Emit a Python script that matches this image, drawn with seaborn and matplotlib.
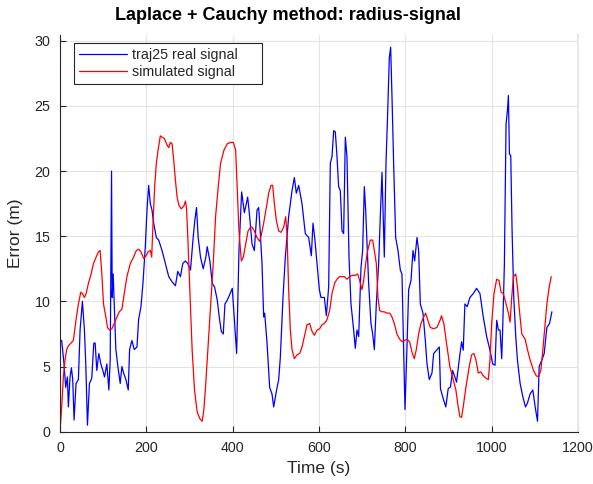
import matplotlib
matplotlib.use("Agg")
import matplotlib.pyplot as plt
import pandas as pd
import seaborn as sns

# values (time in s, error in m)
real_t = [0, 3.9, 9.3, 13.2, 17.1, 19.4, 23.3, 26.4, 29.5, 32.6,
          37.2, 42.6, 46.5, 51.9, 56.6, 59.7, 63.6, 68.2, 73.6, 78.3,
          81.4, 85.3, 89.9, 94.6, 99.2, 103.1, 108.5, 113.2, 116.3, 119.4,
          120.9, 123.2, 125.6, 129.4, 134.1, 139.5, 143.4, 147.3, 152.7, 158.1,
          161.2, 166.6, 172.1, 178.3, 182.1, 187.6, 192.2, 197.6, 201.5, 205.4,
          209.3, 213.1, 217, 223.2, 228.6, 236.4, 244.1, 251.9, 259.6, 267.4,
          272.8, 279, 284.4, 290.6, 296.1, 302.3, 308.5, 312.3, 316.2, 320.1,
          325.5, 331.7, 337.9, 341, 347.2, 352.6, 358.1, 364.3, 368.9, 373.6,
          378.2, 382.1, 387.5, 392.9, 399.1, 404.6, 409.2, 414.6, 420.8,
          427.1, 434.8, 439.4, 444.8, 450.2, 456.4, 460.3, 464.1, 468, 471.8,
          474.2, 479.6, 485.7, 491.1, 495, 501.2, 506.6, 510.4, 516.6, 522,
          529.7, 537.5, 542.9, 547.5, 552.9, 560.6, 568.3, 576.1, 582.2, 586.1,
          590, 595.4, 600.8, 604.6, 612.4, 617, 622.4, 626.2, 630.1, 634,
          637.8, 641.7, 645.5, 649.4, 653.3, 657.1, 661, 664.8, 669.5, 674.1,
          680.3, 684.1, 688, 691.9, 697.3, 701.1, 705, 708.1, 711.2, 715,
          720.4, 724.3, 728.2, 732.8, 738.2, 742, 745.9, 749.8, 751.3, 755.2,
          759, 762.9, 766, 769.1, 772.9, 777.6, 783, 788.4, 792.2, 796.1,
          799.2, 803.8, 807.7, 813.1, 817.7, 821.6, 827, 830.8, 834.7, 840.9,
          846.3, 850.2, 855.5, 861.7, 865.6, 873.3, 878.7,
          881.4, 887.6, 893.8, 899.3, 904.7, 909.3, 914.8, 918.6, 924.8, 930.3,
          934.1, 938, 943.4, 949.6, 957.4, 965.1, 972.9, 980.6, 988.4, 996.1,
          1002.3, 1007.8, 1011.6, 1015.5, 1019.4, 1023.3, 1025.6, 1029.5, 1033.3, 1036.4,
          1038.8, 1041.1, 1044.2, 1047.3, 1051.2, 1055.8, 1059.7, 1065.9, 1072.1, 1078.3,
          1082.9, 1089.1, 1095.3, 1100.8, 1106.2, 1110, 1116.3, 1121.7, 1127.9, 1134.1,
          1139.5]
real_err = [7.0, 7.0, 5.2, 3.4, 4.2, 1.9, 4.2, 4.9, 4.0, 0.9,
            3.7, 4.0, 7.8, 10.0, 7.8, 5.2, 0.5, 3.7, 4.1, 6.8,
            6.8, 4.7, 6.0, 5.2, 4.7, 4.2, 5.2, 3.2, 5.5, 20.0,
            10.3, 12.1, 9.8, 6.3, 5.0, 3.7, 5.0, 4.5, 4.0, 3.2,
            6.3, 7.0, 6.3, 6.5, 8.6, 9.6, 11.4, 14.2, 17.0, 18.9,
            17.5, 17.0, 16.0, 14.9, 14.7, 13.9, 12.9, 11.9, 11.5, 11.2,
            12.3, 11.9, 12.9, 13.1, 12.9, 12.4, 14.9, 16.2, 17.2, 14.9,
            13.4, 12.5, 13.4, 14.2, 13.1, 11.4, 11.1, 10.1, 8.8, 7.7,
            7.5, 9.8, 10.1, 10.5, 11.0, 8.3, 6.0, 13.9, 18.4,
            16.8, 18.0, 16.5, 14.4, 13.9, 17.0, 17.2, 15.2, 12.9, 8.8,
            9.1, 6.8, 3.4, 2.9, 1.9, 3.1, 4.0, 5.7, 10.3, 13.4,
            16.5, 18.5, 19.5, 18.3, 18.9, 17.5, 15.2, 14.9, 13.5, 16.0,
            14.9, 12.9, 10.9, 10.3, 10.3, 8.9, 11.1, 20.6, 21.1, 23.1,
            23.0, 21.1, 18.8, 18.5, 15.4, 15.2, 22.6, 21.1, 13.4, 9.8,
            7.8, 6.4, 7.8, 7.3, 12.6, 13.9, 18.8, 17.0, 14.4, 11.4,
            8.3, 7.5, 6.3, 9.8, 12.9, 16.5, 19.9, 15.4, 13.4, 20.6,
            24.4, 28.7, 29.5, 25.7, 20.6, 14.9, 13.9, 12.4, 12.1, 6.3,
            1.7, 6.5, 10.9, 11.6, 13.9, 13.1, 14.9, 13.9, 9.8, 9.1,
            7.0, 5.2, 4.0, 4.5, 6.0, 6.3, 6.5,
            3.3, 2.55, 1.9, 3.3, 3.45, 4.7, 4.2, 3.8, 5.5, 6.9,
            6.25, 9.8, 9.6, 10.3, 10.6, 11.0, 10.6, 8.8, 7.3, 6.25,
            5.2, 5.1, 8.55, 7.8, 7.8, 5.6, 8.0, 12.9, 23.6, 24.6,
            25.8, 21.3, 21.2, 15.4, 10.3, 7.3, 5.5, 3.7, 2.7, 1.9,
            2.2, 2.9, 3.2, 1.9, 0.8, 5.0, 5.5, 6.0, 8.0, 8.3,
            9.2]

sim_t = [0, 3.9, 7.8, 11.6, 15.5, 19.4, 25.6, 31, 37.2, 42.6,
         48.1, 51.9, 56.6, 60.5, 65.9, 72.1, 77.5, 83.7, 89.1, 93,
         96.9, 100.8, 106.2, 110.1, 114.7, 120.1, 125.6, 131.8, 137.2, 143.4,
         148.8, 155, 162.8, 170.5, 176.7, 182.1, 187.6, 193.8, 199.2, 203.8,
         209.3, 212.4, 215.5, 219.3, 223.2, 227.1, 232.5, 236.4, 241.8, 248,
         251.9, 255.8, 259.6, 263.5, 267.4, 271.3, 275.1, 280.6, 286.8, 290.6,
         293, 296.1, 300.7, 306.1, 311.6, 317.8, 324, 329.4, 333.3, 337.1,
         342.6, 348.8, 355, 360.4, 366.6, 372, 379.8, 387.5, 395.3, 401.5,
         406.9, 410.8, 414.6, 420.1, 424.7, 430.1, 435.6, 441.8,
         444.8, 450.2, 456.4, 462.6, 466.4, 471.8, 478, 483.4, 488.8, 492.7,
         496.6, 501.2, 506.6, 512, 518.2, 522.8, 525.9, 529.7, 533.6, 537.5,
         542.9, 549.1, 555.2, 560.6, 566, 572.2, 578.4, 583.8, 589.2, 595.4,
         601.5, 606.9, 612.4, 618.5, 624.7, 630.1, 636.3, 641.7, 647.9, 653.3,
         658.7, 664.8, 671, 677.2, 684.1, 689.6, 694.2, 699.6, 703.4, 708.1,
         712.7, 718.9, 724.3, 728.2, 732.8, 736.6, 740.5, 745.9, 751.3, 757.5,
         763.7, 769.1, 774.5, 780.6, 786.8, 793, 798.4, 803.8, 810, 815.4,
         820.8, 825.4, 830.8, 836.2, 842.4, 847, 851.7, 857.8, 865.6, 873.3,
         881,
         883.8, 889.2, 895.4, 903.1, 910.9, 917.1, 922.5, 926.4, 930.3, 934.1,
         940.3, 948.1, 953.5, 958.9, 963.6, 969, 974.4, 980.6, 986.8, 992.3,
         996.1, 1000, 1005.4, 1011.6, 1017.1, 1021.7, 1027.1, 1033.3, 1038.8, 1042.6,
         1046.5, 1050.4, 1055.8, 1059.7, 1064.3, 1069.8, 1077.5, 1082.9, 1089.1, 1096.9,
         1103.1, 1108.5, 1113.9, 1117.8, 1122.5, 1127.9, 1133.3, 1138]
sim_err = [0, 1.9, 4.2, 5.5, 6.3, 6.6, 6.8, 7.0, 8.6, 9.8,
           10.7, 10.6, 10.3, 10.6, 11.4, 12.1, 12.9, 13.4, 13.8, 13.9,
           12.1, 9.8, 8.8, 8.0, 7.8, 7.9, 8.3, 8.8, 9.2, 9.4,
           10.6, 11.9, 12.9, 13.4, 13.9, 14.0, 13.8, 13.3, 13.5, 13.8,
           13.9, 13.4, 16.0, 18.8, 20.6, 21.6, 22.7, 22.6, 22.5, 22.0,
           21.8, 22.2, 22.1, 20.8, 19.3, 18.0, 17.4, 17.1, 17.3, 17.7,
           17.2, 14.9, 10.9, 6.3, 3.2, 1.5, 1.0, 0.8, 1.7, 3.4,
           6.3, 9.6, 12.9, 16.5, 18.8, 20.6, 21.6, 22.1, 22.2, 22.2,
           21.6, 18.5, 15.4, 13.1, 13.4, 14.4, 15.4, 15.7,
           15.7, 15.4, 14.9, 14.6, 15.1, 16.0, 17.2, 18.3, 18.9, 18.9,
           17.5, 16.2, 15.4, 15.3, 15.7, 16.5, 15.2, 10.9, 7.8, 6.3,
           5.6, 5.9, 6.0, 6.5, 7.3, 8.2, 8.3, 7.7, 7.4, 7.8,
           7.9, 8.2, 8.3, 8.6, 9.3, 10.6, 11.4, 11.7, 11.9, 11.9,
           11.9, 11.7, 11.9, 12.0, 12.0, 12.1, 11.6, 10.9, 11.6, 12.9,
           13.9, 14.7, 14.7, 13.9, 12.9, 10.3, 9.3, 9.2, 9.2, 9.1,
           9.1, 8.8, 8.3, 7.5, 7.1, 6.9, 7.0, 7.1, 6.9, 6.1,
           5.6, 6.3, 7.5, 8.3, 8.8, 9.1, 8.6, 8.0, 7.9, 8.0,
           8.6,
           8.9, 8.3, 6.8, 5.0, 4.0, 3.2, 1.9, 1.15, 1.1, 1.9,
           3.4, 5.0, 5.9, 6.0, 5.5, 4.5, 4.6, 4.3, 4.1, 4.0,
           5.5, 8.3, 10.6, 11.7, 11.6, 10.7, 10.6, 9.8, 9.1, 8.4,
           10.3, 11.9, 12.1, 11.1, 9.3, 7.5, 7.1, 6.3, 5.5, 4.7,
           4.3, 4.2, 4.7, 6.0, 7.8, 9.8, 11.1, 11.9]

x_ticks = [0, 200, 400, 600, 800, 1000, 1200]
y_ticks = [0, 5, 10, 15, 20, 25, 30]

sns.set_theme(style="whitegrid")
plt.rcParams['font.family'] = ['Liberation Sans', 'DejaVu Sans']

real = pd.DataFrame({"t": real_t, "err": real_err})
sim = pd.DataFrame({"t": sim_t, "err": sim_err})

fig = plt.figure(figsize=(5.93, 4.84), dpi=100)
ax = fig.add_axes([60/593, 1 - 431.7/484, 518/593, 396.7/484])

# trailing spaces give the wider legend box of the original
sns.lineplot(data=real, x="t", y="err", color="#0000ff", lw=0.9,
             estimator=None, sort=False, label="traj25 real signal     ", ax=ax)
sns.lineplot(data=sim, x="t", y="err", color="#ff0000", lw=0.9,
             estimator=None, sort=False, label="simulated signal     ", ax=ax)

ax.set_xlim(0, 1200)
ax.set_ylim(0, 30.44)
ax.set_xticks(x_ticks)
ax.set_yticks(y_ticks)
ax.grid(True, color="#e3e3e3", lw=0.8)
ax.set_facecolor("white")
for side in ["left", "bottom"]:
    ax.spines[side].set_color("#262626")
    ax.spines[side].set_linewidth(0.8)
ax.spines["top"].set_visible(False)
ax.spines["right"].set_color("#e8e8e8")
ax.spines["right"].set_linewidth(1.5)
ax.tick_params(direction="in", length=4, width=0.8, color="#262626",
               labelsize=10.3, labelcolor="#262626", pad=7)
ax.tick_params(axis="x", bottom=True, top=False)
ax.tick_params(axis="y", left=True, right=False)

ax.set_title("Laplace + Cauchy method: radius-signal", fontsize=13,
             fontweight="bold", color="black", pad=10.8, x=0.44)
ax.set_xlabel("Time (s)", fontsize=12.5, color="#262626", labelpad=4)
ax.set_ylabel("Error (m)", fontsize=12.5, color="#262626", labelpad=8.5)

leg = ax.legend(loc="upper left", bbox_to_anchor=(0.0276, 0.9806),
                borderaxespad=0, fontsize=10.3, frameon=True, fancybox=False,
                handlelength=3.3, handletextpad=0.35, labelspacing=0.2,
                borderpad=0.35)
leg.get_frame().set_edgecolor("#262626")
leg.get_frame().set_linewidth(0.8)
leg.get_frame().set_alpha(1)

fig.savefig("out.png", dpi=100)
